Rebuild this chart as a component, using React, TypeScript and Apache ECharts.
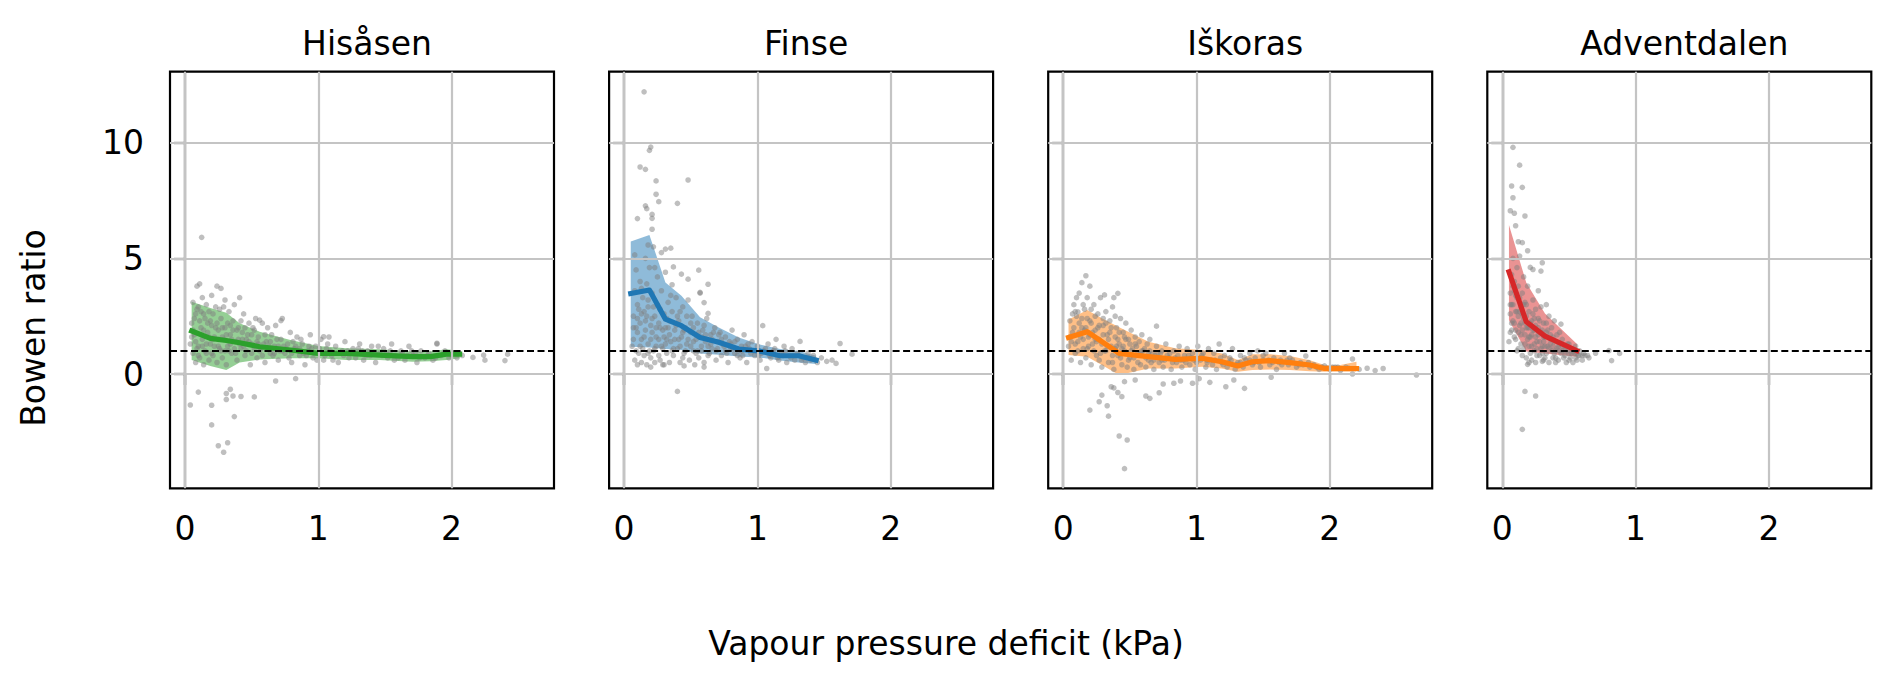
import React, { useEffect, useRef } from "react";
import * as echarts from "echarts";

// ---------------- data ----------------
const stationNames = ["Hisåsen", "Finse", "Iškoras", "Adventdalen"];
const stationColors = ["#2ca02c", "#1f77b4", "#ff7f0e", "#d62728"];

const xTicks = [0, 1, 2];
const yTicks = [0, 5, 10];
const referenceRatio = 1;
const xLabelText = "Vapour pressure deficit (kPa)";
const yLabelText = "Bowen ratio";

// Hisåsen
const hisasenPoints = [
  [0.04, 1.3], [0.05, 2.2], [0.06, 0.9], [0.06, 3.1], [0.07, 1.7], [0.08, 2.6], [0.08, 0.5], [0.09, 3.8], [0.1, 1.2], [0.1, 2.9],
  [0.11, 0.7], [0.11, 3.9], [0.12, 2.0], [0.13, 1.5], [0.13, 3.3], [0.14, 0.4], [0.15, 2.4], [0.15, 1.0], [0.16, 3.0], [0.17, 1.8],
  [0.18, 0.6], [0.18, 2.7], [0.19, 1.3], [0.2, 3.4], [0.2, 2.1], [0.21, 0.8], [0.22, 1.6], [0.23, 2.9], [0.24, 0.5], [0.24, 3.8],
  [0.25, 1.9], [0.26, 1.1], [0.27, 3.7], [0.27, 2.4], [0.28, 0.7], [0.29, 1.5], [0.3, 3.2], [0.3, 2.0], [0.31, 0.4], [0.32, 1.2],
  [0.33, 2.7], [0.34, 1.7], [0.35, 0.9], [0.36, 2.3], [0.37, 3.0], [0.38, 1.4], [0.39, 0.6], [0.4, 2.0], [0.41, 3.3], [0.42, 1.1],
  [0.43, 1.8], [0.44, 2.6], [0.45, 0.8], [0.46, 1.5], [0.48, 2.2], [0.49, 0.4], [0.5, 1.3], [0.52, 1.9], [0.53, 2.4], [0.54, 0.7],
  [0.55, 1.6], [0.57, 1.1], [0.58, 2.2], [0.6, 0.5], [0.61, 1.4], [0.62, 2.0], [0.64, 0.9], [0.65, 1.7], [0.67, 1.2], [0.68, 2.1],
  [0.7, 0.6], [0.72, 1.5], [0.73, 2.4], [0.75, 0.9], [0.77, 1.3], [0.79, 1.8], [0.8, 0.5], [0.82, 1.1], [0.84, 1.6], [0.86, 0.8],
  [0.88, 1.3], [0.9, 0.4], [0.92, 1.0], [0.94, 1.7], [0.96, 0.7], [0.98, 1.2], [1.0, 0.9], [1.02, 1.5], [1.04, 0.6], [1.06, 1.1],
  [1.08, 1.6], [1.1, 0.8], [1.13, 1.2], [1.15, 0.5], [1.18, 1.0], [1.2, 1.4], [1.23, 0.7], [1.26, 1.1], [1.29, 0.9], [1.31, 1.3],
  [1.34, 0.6], [1.37, 1.0], [1.4, 1.2], [1.43, 0.5], [1.46, 0.9], [1.49, 1.1], [1.52, 0.7], [1.55, 1.3], [1.58, 0.8], [1.62, 1.0],
  [1.65, 0.6], [1.68, 1.2], [1.71, 0.8], [1.74, 0.5], [1.77, 1.0], [1.8, 0.7], [1.83, 0.9], [1.86, 0.6], [1.89, 1.3], [1.92, 0.8],
  [1.95, 1.0], [1.98, 0.7], [2.01, 0.9], [2.04, 0.7], [2.08, 0.8], [2.16, 0.72], [2.24, 0.82], [2.4, 0.58], [2.42, 0.86], [2.25, 0.6],
  [0.05, 1.6], [0.07, 2.4], [0.09, 1.1], [0.12, 2.7], [0.14, 1.9], [0.16, 1.3], [0.19, 2.3], [0.21, 1.5], [0.23, 2.0], [0.25, 1.2],
  [0.26, 2.8], [0.28, 1.6], [0.3, 1.0], [0.32, 2.2], [0.34, 1.3], [0.36, 1.9], [0.38, 0.9], [0.4, 1.5], [0.42, 2.3], [0.44, 1.2],
  [0.47, 1.7], [0.5, 0.9], [0.51, 2.0], [0.55, 1.3], [0.58, 0.8], [0.6, 1.7], [0.63, 1.2], [0.66, 0.8], [0.69, 1.5], [0.71, 1.0],
  [0.74, 1.2], [0.78, 0.7], [0.81, 1.4], [0.85, 1.0], [0.87, 1.5], [0.91, 0.8], [0.95, 1.1], [0.99, 0.6], [1.03, 0.9], [1.07, 1.3],
  [1.11, 0.6], [1.16, 0.9], [1.22, 1.0], [1.28, 0.7], [1.33, 1.0], [1.39, 0.8], [1.45, 1.2], [1.51, 0.9], [1.57, 0.6], [1.63, 0.9],
  [1.7, 1.0], [1.76, 0.7], [1.82, 0.8], [1.88, 0.7], [1.94, 0.9], [2.0, 0.8], [0.56, 2.33], [0.72, 2.31], [1.04, 1.61], [1.89, 1.33],
  [0.06, 1.9], [0.08, 1.4], [0.09, 2.8], [0.1, 0.8], [0.11, 2.3], [0.13, 1.2], [0.14, 2.6], [0.16, 0.9], [0.17, 2.2], [0.18, 1.6],
  [0.2, 0.9], [0.21, 2.6], [0.22, 1.2], [0.24, 2.2], [0.25, 1.5], [0.27, 1.0], [0.28, 2.0], [0.29, 2.9], [0.31, 1.7], [0.33, 1.0],
  [0.34, 2.1], [0.35, 1.5], [0.37, 1.1], [0.39, 1.9], [0.41, 1.3], [0.43, 1.5], [0.45, 2.0], [0.46, 1.0], [0.48, 1.4], [0.5, 1.7],
  [0.52, 1.1], [0.54, 1.4], [0.56, 1.0], [0.59, 1.3], [0.62, 1.1], [0.64, 1.4], [0.67, 0.9], [0.7, 1.2], [0.73, 1.0], [0.76, 1.1],
  [0.8, 0.9], [0.83, 1.2], [0.86, 1.1], [0.89, 0.9], [0.93, 1.2], [0.97, 0.9], [1.01, 1.1], [1.05, 0.8], [1.09, 1.0], [1.14, 0.9],
  [1.19, 0.8], [1.25, 0.9], [1.3, 1.1], [1.36, 0.8], [1.42, 0.9], [1.48, 0.8], [1.54, 1.0], [1.6, 0.7], [1.67, 0.8], [1.73, 0.9],
  [0.125, 5.91], [0.04, -1.34], [0.1, -0.78], [0.2, -1.35], [0.2, -2.2], [0.25, -3.1], [0.29, -3.38], [0.32, -2.97], [0.37, -1.84],
  [0.31, -0.84], [0.34, -0.66], [0.31, -1.1], [0.42, -0.97], [0.52, -0.99], [0.68, -0.3], [0.83, -0.2], [0.36, -0.95],
];
const hisasenBinX = [0.05, 0.19, 0.31, 0.41, 0.56, 0.79, 1.0, 1.21, 1.46, 1.71, 1.84, 1.96, 2.06];
const hisasenMedian = [1.86, 1.54, 1.45, 1.35, 1.18, 1.04, 0.89, 0.89, 0.82, 0.75, 0.75, 0.86, 0.86];
const hisasenLow = [0.61, 0.35, 0.17, 0.5, 0.63, 0.68, 0.68, 0.61, 0.61, 0.53, 0.55, 0.61, 0.68];
const hisasenHigh = [3.13, 2.85, 2.65, 2.2, 1.83, 1.47, 1.21, 1.11, 1.07, 0.97, 0.97, 1.07, 1.01];

// Finse
const finsePoints = [
  [0.06, 1.2], [0.07, 2.5], [0.08, 3.6], [0.08, 0.6], [0.09, 4.5], [0.1, 1.8], [0.1, 3.0], [0.11, 0.9], [0.12, 2.2], [0.12, 4.0],
  [0.13, 0.5], [0.13, 1.5], [0.14, 3.3], [0.15, 2.7], [0.15, 0.8], [0.16, 5.0], [0.16, 1.9], [0.17, 3.9], [0.17, 0.4], [0.18, 1.3],
  [0.18, 2.9], [0.19, 4.6], [0.2, 0.7], [0.2, 2.1], [0.21, 3.5], [0.22, 1.0], [0.22, 5.5], [0.23, 2.5], [0.23, 0.5], [0.24, 1.6],
  [0.25, 3.0], [0.25, 4.2], [0.26, 0.8], [0.27, 2.0], [0.28, 1.2], [0.28, 3.6], [0.29, 0.4], [0.3, 2.6], [0.3, 1.6], [0.31, 4.4],
  [0.32, 0.9], [0.33, 3.1], [0.33, 2.0], [0.34, 0.5], [0.35, 1.4], [0.36, 2.7], [0.36, 3.86], [0.37, 0.8], [0.38, 1.9], [0.39, 3.3],
  [0.4, 1.1], [0.41, 2.3], [0.42, 0.5], [0.43, 1.6], [0.44, 2.9], [0.45, 0.9], [0.46, 2.0], [0.47, 1.3], [0.48, 3.2], [0.49, 0.6],
  [0.5, 1.8], [0.51, 2.5], [0.52, 1.0], [0.53, 0.4], [0.54, 1.5], [0.55, 2.2], [0.56, 0.7], [0.57, 3.5], [0.58, 1.2], [0.59, 1.9],
  [0.6, 0.5], [0.61, 1.4], [0.62, 2.4], [0.63, 2.62], [0.64, 0.9], [0.65, 1.7], [0.66, 1.1], [0.68, 2.0], [0.69, 0.6], [0.7, 1.4],
  [0.72, 1.8], [0.73, 0.8], [0.75, 1.2], [0.76, 1.6], [0.78, 0.5], [0.8, 1.3], [0.81, 1.9], [0.83, 0.9], [0.85, 1.5], [0.87, 0.7],
  [0.88, 1.2], [0.9, 1.7], [0.92, 0.5], [0.94, 1.1], [0.96, 1.4], [0.98, 0.8], [1.0, 1.2], [1.02, 0.6], [1.04, 2.09], [1.05, 1.0],
  [1.07, 0.24], [1.08, 1.3], [1.1, 0.7], [1.12, 1.0], [1.14, 1.5], [1.16, 0.6], [1.18, 0.9], [1.2, 1.2], [1.22, 0.5], [1.24, 0.8],
  [1.26, 1.1], [1.28, 0.6], [1.3, 0.9], [1.32, 1.41], [1.34, 0.7], [1.36, 0.5], [1.38, 0.9], [1.4, 0.6], [1.42, 0.8], [1.45, 0.5],
  [1.48, 0.7], [1.52, 0.55], [1.56, 0.6], [1.59, 0.46], [1.62, 1.32], [1.71, 0.86],
  [0.07, 1.5], [0.09, 2.0], [0.11, 2.8], [0.13, 3.7], [0.14, 1.1], [0.16, 2.3], [0.18, 3.2], [0.19, 1.0], [0.21, 1.8], [0.22, 2.9],
  [0.24, 1.2], [0.26, 2.2], [0.27, 0.6], [0.29, 1.9], [0.31, 1.3], [0.32, 2.4], [0.34, 1.7], [0.35, 3.4], [0.37, 1.1], [0.39, 2.1],
  [0.41, 1.5], [0.42, 2.7], [0.44, 0.7], [0.45, 1.9], [0.47, 2.5], [0.5, 1.2], [0.52, 2.0], [0.55, 1.0], [0.58, 1.6], [0.6, 2.1],
  [0.63, 1.2], [0.66, 1.5], [0.69, 1.0], [0.71, 1.7], [0.74, 1.3], [0.77, 0.9], [0.8, 1.1], [0.83, 1.4], [0.86, 1.0], [0.89, 0.8],
  [0.93, 1.3], [0.97, 1.0], [1.01, 0.8], [1.06, 1.1], [1.11, 0.9], [1.15, 0.7], [1.21, 1.0], [1.27, 0.8], [1.33, 0.6], [1.39, 0.7],
  [1.44, 0.6], [0.1, 0.4], [0.2, 0.3], [0.3, 0.4], [0.45, 0.35], [0.6, 0.3],
  [0.07, 2.0], [0.09, 1.0], [0.1, 2.4], [0.12, 1.2], [0.13, 2.6], [0.15, 1.6], [0.17, 2.5], [0.18, 0.9], [0.2, 1.5], [0.21, 2.4],
  [0.23, 1.1], [0.24, 2.0], [0.26, 1.5], [0.27, 2.8], [0.29, 1.1], [0.31, 2.0], [0.32, 1.5], [0.34, 2.3], [0.36, 1.0], [0.38, 1.5],
  [0.4, 2.5], [0.42, 1.2], [0.44, 1.8], [0.46, 1.0], [0.48, 1.5], [0.5, 2.2], [0.52, 1.4], [0.54, 0.9], [0.56, 1.8], [0.58, 1.0],
  [0.61, 1.7], [0.63, 0.8], [0.65, 1.3], [0.67, 1.8], [0.7, 1.1], [0.73, 1.5], [0.76, 1.0], [0.79, 1.4], [0.82, 1.1], [0.85, 0.8],
  [0.88, 1.0], [0.91, 1.2], [0.95, 0.9], [0.99, 1.0], [1.03, 0.9], [1.09, 0.8], [1.13, 1.1], [1.19, 0.8], [1.25, 0.7], [1.31, 0.8],
  [0.15, 12.2], [0.19, 9.67], [0.2, 9.81], [0.12, 8.95], [0.16, 8.85], [0.24, 8.35], [0.48, 8.39], [0.24, 7.77], [0.26, 7.45],
  [0.4, 7.38], [0.16, 7.27], [0.17, 7.15], [0.21, 6.9], [0.21, 6.73], [0.1, 6.72], [0.21, 6.26], [0.18, 5.58], [0.28, 5.25],
  [0.31, 5.4], [0.35, 5.44], [0.08, 5.15], [0.23, 4.6], [0.37, 4.63], [0.56, 4.49], [0.43, 4.32], [0.48, 4.1], [0.63, 3.88],
  [0.57, 3.53], [0.6, 3.09], [0.4, -0.75],
];
const finseBinX = [0.05, 0.19, 0.31, 0.43, 0.57, 0.71, 0.86, 1.01, 1.17, 1.31, 1.44];
const finseMedian = [3.48, 3.63, 2.37, 2.09, 1.58, 1.37, 1.08, 1.0, 0.79, 0.79, 0.6];
const finseLow = [1.18, 1.15, 1.08, 1.04, 0.89, 0.83, 0.76, 0.72, 0.58, 0.5, 0.43];
const finseHigh = [5.73, 6.01, 3.96, 3.38, 2.45, 2.01, 1.58, 1.29, 1.08, 1.0, 0.79];

// Iškoras
const iskorasPoints = [
  [0.04, 1.2], [0.05, 2.3], [0.06, 0.6], [0.07, 1.8], [0.08, 3.0], [0.09, 0.9], [0.1, 2.5], [0.11, 2.69], [0.11, 1.4], [0.12, 3.5],
  [0.13, 0.5], [0.14, 3.95], [0.14, 2.0], [0.15, 1.1], [0.16, 2.8], [0.17, 4.25], [0.17, 0.7], [0.18, 3.3], [0.19, 1.6], [0.2, 3.8],
  [0.2, 2.3], [0.21, 0.4], [0.22, 1.3], [0.23, 3.0], [0.24, 1.9], [0.25, 0.8], [0.26, 2.6], [0.27, 1.5], [0.28, 3.3], [0.29, 0.3],
  [0.3, 2.1], [0.31, 3.42], [0.31, 1.0], [0.32, 2.7], [0.33, 1.7], [0.34, 0.5], [0.35, 2.3], [0.36, 1.2], [0.37, 2.9], [0.38, 3.3],
  [0.38, 0.2], [0.39, 1.6], [0.4, 2.0], [0.41, 3.49], [0.41, 0.8], [0.42, 1.3], [0.43, 2.4], [0.44, 0.4], [0.45, 1.8], [0.46, 1.0],
  [0.47, 2.2], [0.48, 0.3], [0.49, 1.5], [0.5, 0.7], [0.51, 1.9], [0.52, 1.1], [0.53, 0.2], [0.54, 1.6], [0.56, 0.9], [0.57, 1.4],
  [0.58, 0.4], [0.59, 1.7], [0.6, 1.0], [0.62, 0.3], [0.63, 1.3], [0.64, 0.6], [0.65, 1.5], [0.67, 0.9], [0.68, 0.2], [0.7, 2.07],
  [0.7, 1.2], [0.72, 0.5], [0.74, 1.0], [0.75, 0.3], [0.77, 1.3], [0.79, 0.7], [0.81, 0.2], [0.83, 1.0], [0.85, 0.5], [0.87, 1.2],
  [0.89, 0.3], [0.91, 0.8], [0.93, 1.1], [0.95, 0.4], [0.97, 0.9], [0.99, 0.2], [1.01, 1.2], [1.03, 0.6], [1.05, 0.9], [1.07, 0.3],
  [1.09, 1.1], [1.11, 0.6], [1.13, 0.9], [1.15, 0.2], [1.17, 1.3], [1.19, 0.5], [1.21, 0.8], [1.23, 0.3], [1.25, 0.7], [1.27, 1.1],
  [1.29, 0.2], [1.31, 0.5], [1.33, 0.8], [1.35, 0.3], [1.37, 0.6], [1.4, 0.9], [1.42, 0.4], [1.44, 0.7], [1.46, 1.0], [1.48, 0.3],
  [1.5, 0.6], [1.52, 0.9], [1.55, 0.4], [1.58, 0.7], [1.6, 0.2], [1.63, 0.6], [1.66, 0.9], [1.69, 0.4], [1.72, 0.6], [1.75, 0.3],
  [1.78, 0.5], [1.82, 0.78], [1.85, 0.3], [1.88, 0.4], [1.92, 0.2], [1.96, 0.35], [2.0, 0.2], [2.04, 0.3], [2.08, 0.15], [2.12, 0.3],
  [2.17, 0.65], [2.17, 0.0], [2.22, 0.2], [2.28, 0.25], [2.34, 0.15], [2.4, 0.24], [2.65, -0.04],
  [0.05, 1.6], [0.07, 2.6], [0.09, 1.3], [0.1, 3.3], [0.12, 2.2], [0.13, 1.6], [0.15, 3.0], [0.16, 1.9], [0.18, 2.4], [0.19, 1.2],
  [0.21, 2.8], [0.22, 1.8], [0.24, 2.5], [0.25, 1.4], [0.27, 2.1], [0.28, 0.9], [0.3, 1.7], [0.32, 2.2], [0.33, 1.2], [0.35, 1.8],
  [0.37, 0.8], [0.39, 2.5], [0.4, 1.2], [0.42, 1.8], [0.44, 1.1], [0.46, 1.6], [0.48, 0.9], [0.5, 1.3], [0.53, 0.7], [0.55, 1.2],
  [0.58, 0.9], [0.61, 1.1], [0.64, 0.9], [0.66, 0.5], [0.69, 0.8], [0.73, 0.9], [0.76, 0.6], [0.8, 0.9], [0.84, 0.7], [0.88, 0.6],
  [0.92, 0.5], [0.96, 0.7], [1.0, 0.5], [1.04, 0.8], [1.08, 0.6], [1.12, 0.4], [1.18, 0.7], [1.24, 0.5], [1.3, 0.4], [1.36, 0.7],
  [1.43, 0.5], [1.5, 0.8], [1.57, 0.5], [1.64, 0.4], [1.7, 0.7], [1.77, 0.4], [1.84, 0.5], [1.9, 0.3], [1.98, 0.25], [2.06, 0.3],
  [2.14, 0.25],
  [0.06, 1.4], [0.08, 2.0], [0.09, 2.7], [0.11, 1.0], [0.12, 1.8], [0.14, 2.4], [0.15, 1.5], [0.17, 2.0], [0.18, 1.1], [0.2, 1.7],
  [0.21, 2.2], [0.23, 1.0], [0.24, 1.5], [0.26, 2.0], [0.27, 0.6], [0.29, 1.3], [0.3, 2.4], [0.32, 1.0], [0.34, 1.5], [0.36, 2.0],
  [0.37, 0.5], [0.39, 1.1], [0.41, 1.5], [0.43, 0.7], [0.45, 1.2], [0.47, 1.5], [0.49, 0.6], [0.51, 1.0], [0.54, 1.3], [0.56, 0.5],
  [0.59, 1.0], [0.62, 0.7], [0.65, 1.0], [0.68, 0.6], [0.71, 0.9], [0.74, 0.6], [0.78, 0.8], [0.82, 0.5], [0.86, 0.8], [0.9, 0.6],
  [0.94, 0.8], [0.98, 0.6], [1.03, 0.7], [1.08, 0.5], [1.14, 0.6], [1.2, 0.4], [1.26, 0.6], [1.33, 0.5], [1.4, 0.6], [1.47, 0.5],
  [1.54, 0.6], [1.62, 0.5], [1.68, 0.6], [1.8, 0.4], [1.94, 0.3], [2.02, 0.3],
  [0.2, -1.56], [0.42, -2.68], [0.48, -2.85], [0.46, -4.09], [0.34, -1.82], [0.33, -1.37], [0.29, -0.91], [0.36, -0.55],
  [0.54, -0.26], [0.44, -0.98], [0.62, -0.95], [0.65, -1.05], [0.72, -0.81], [0.75, -0.43], [0.46, -0.33], [0.27, -1.2],
  [0.38, -0.6], [0.41, -0.8], [0.83, -0.4], [0.88, -0.3], [0.97, -0.4], [1.02, -0.2], [1.1, -0.36], [1.22, -0.55],
  [1.28, -0.26], [1.36, -0.62], [1.56, -0.14],
];
const iskorasBinX = [0.04, 0.18, 0.29, 0.42, 0.64, 0.84, 1.04, 1.19, 1.31, 1.42, 1.55, 1.7, 1.85, 1.96, 2.08, 2.2];
const iskorasMedian = [1.58, 1.83, 1.4, 0.89, 0.75, 0.63, 0.68, 0.53, 0.35, 0.53, 0.58, 0.49, 0.39, 0.24, 0.24, 0.24];
const iskorasLow = [0.82, 0.75, 0.39, -0.04, 0.24, 0.24, 0.32, 0.24, 0.1, 0.17, 0.2, 0.17, 0.12, 0.1, 0.1, 0.1];
const iskorasHigh = [2.36, 2.77, 2.41, 2.02, 1.4, 1.11, 1.04, 0.89, 0.61, 0.85, 0.86, 0.78, 0.6, 0.39, 0.39, 0.53];

// Adventdalen
const adventdalenPoints = [
  [0.05, 1.4], [0.06, 2.6], [0.06, 3.5], [0.07, 4.3], [0.07, 1.9], [0.08, 3.0], [0.08, 5.0], [0.09, 2.2], [0.09, 4.0], [0.1, 1.5],
  [0.1, 3.4], [0.11, 2.7], [0.11, 4.6], [0.12, 1.1], [0.12, 3.8], [0.13, 2.1], [0.13, 5.1], [0.14, 2.9], [0.14, 1.3], [0.15, 3.5],
  [0.15, 0.8], [0.16, 2.4], [0.16, 4.2], [0.17, 1.7], [0.17, 3.1], [0.18, 0.7], [0.18, 2.0], [0.19, 3.8], [0.19, 0.42], [0.2, 1.2],
  [0.2, 2.7], [0.21, 4.61], [0.21, 1.6], [0.22, 0.6], [0.22, 2.3], [0.23, 4.52], [0.23, 3.2], [0.24, 1.0], [0.24, 1.9], [0.25, 2.8],
  [0.25, 0.5], [0.26, 1.4], [0.27, 2.4], [0.27, 3.6], [0.28, 0.8], [0.28, 1.8], [0.29, 4.45], [0.29, 2.9], [0.3, 1.2], [0.3, 4.81],
  [0.31, 0.6], [0.31, 2.2], [0.32, 1.6], [0.33, 3.0], [0.33, 0.9], [0.34, 1.9], [0.35, 0.5], [0.35, 2.5], [0.36, 1.3], [0.37, 2.0],
  [0.38, 0.7], [0.38, 1.6], [0.39, 2.3], [0.4, 1.0], [0.41, 1.7], [0.42, 0.6], [0.43, 1.3], [0.44, 2.16], [0.44, 0.9], [0.45, 1.5],
  [0.46, 0.7], [0.47, 1.2], [0.48, 0.5], [0.49, 1.0], [0.5, 1.3], [0.51, 0.7], [0.52, 1.1], [0.53, 0.5], [0.54, 0.9], [0.55, 1.2],
  [0.56, 0.6], [0.57, 0.8], [0.58, 1.0], [0.6, 0.6], [0.62, 0.8], [0.65, 0.7], [0.7, 0.9], [0.8, 1.01], [0.82, 0.58], [0.88, 0.89],
  [0.06, 1.8], [0.07, 3.0], [0.08, 2.3], [0.09, 3.6], [0.1, 1.9], [0.11, 1.0], [0.12, 2.5], [0.13, 3.3], [0.14, 1.7], [0.15, 2.6],
  [0.16, 1.1], [0.17, 2.2], [0.18, 3.0], [0.19, 1.5], [0.2, 2.0], [0.21, 0.9], [0.22, 1.7], [0.23, 2.6], [0.24, 1.3], [0.25, 2.1],
  [0.26, 0.8], [0.27, 1.7], [0.28, 2.3], [0.29, 1.1], [0.3, 1.9], [0.31, 1.4], [0.32, 0.7], [0.33, 2.2], [0.34, 1.2], [0.36, 1.7],
  [0.37, 1.0], [0.39, 1.4], [0.4, 0.7], [0.42, 1.2], [0.43, 1.8], [0.45, 1.0], [0.47, 0.8], [0.49, 1.3], [0.5, 0.6], [0.52, 0.9],
  [0.55, 0.7], [0.58, 0.8], [0.61, 0.9], [0.64, 0.8], [0.2, 0.5], [0.3, 0.55], [0.4, 0.5],
  [0.06, 3.0], [0.07, 2.2], [0.08, 3.8], [0.09, 1.6], [0.1, 2.7], [0.11, 3.3], [0.12, 1.8], [0.13, 2.7], [0.14, 2.2], [0.15, 1.9],
  [0.16, 3.0], [0.17, 1.3], [0.18, 2.5], [0.19, 2.0], [0.2, 1.6], [0.21, 2.2], [0.22, 1.2], [0.23, 1.9], [0.24, 2.4], [0.25, 1.6],
  [0.26, 1.1], [0.27, 2.0], [0.28, 1.4], [0.29, 1.8], [0.3, 0.9], [0.31, 1.6], [0.32, 1.2], [0.33, 1.8], [0.35, 1.1], [0.36, 1.5],
  [0.38, 1.2], [0.39, 0.9], [0.41, 1.1], [0.43, 1.0], [0.45, 1.2], [0.47, 1.0], [0.5, 0.9], [0.53, 1.0], [0.56, 0.9], [0.6, 0.8],
  [0.08, 9.8], [0.13, 9.03], [0.07, 8.13], [0.15, 8.07], [0.08, 7.62], [0.06, 7.06], [0.09, 6.95], [0.17, 6.83], [0.1, 6.41],
  [0.12, 5.72], [0.15, 5.68], [0.19, 5.33], [0.17, -0.75], [0.25, -0.95], [0.15, -2.39],
];
const adventdalenBinX = [0.05, 0.18, 0.32, 0.56];
const adventdalenMedian = [4.42, 2.26, 1.64, 1.01];
const adventdalenLow = [2.33, 0.97, 0.89, 0.75];
const adventdalenHigh = [6.44, 3.95, 2.62, 1.3];

const stationPoints = [hisasenPoints, finsePoints, iskorasPoints, adventdalenPoints];
const stationBinX = [hisasenBinX, finseBinX, iskorasBinX, adventdalenBinX];
const stationMedian = [hisasenMedian, finseMedian, iskorasMedian, adventdalenMedian];
const stationLow = [hisasenLow, finseLow, iskorasLow, adventdalenLow];
const stationHigh = [hisasenHigh, finseHigh, iskorasHigh, adventdalenHigh];

// ---------------- layout ----------------
const FONT = "'DejaVu Sans', 'Liberation Sans', sans-serif";
const X_MIN = -0.1125;
const X_MAX = 2.768;
const Y_MIN = -4.94;
const Y_MAX = 13.07;
const GRID_LEFTS = [170, 609.1, 1048.2, 1487.3];
const GRID_TOP = 71.7;
const GRID_W = 384;
const GRID_H = 416.6;
const TICK_FONT = 33;
const LABEL_FONT = 33;

function hexToRgba(hex: string, a: number) {
  const n = parseInt(hex.slice(1), 16);
  return `rgba(${(n >> 16) & 255},${(n >> 8) & 255},${n & 255},${a})`;
}

function buildOption() {
  const grid: any[] = [];
  const xAxis: any[] = [];
  const yAxis: any[] = [];
  const series: any[] = [];
  const title: any[] = [];

  stationNames.forEach((name, i) => {
    const color = stationColors[i];
    grid.push({
      left: GRID_LEFTS[i],
      top: GRID_TOP,
      width: GRID_W,
      height: GRID_H,
      show: true,
      borderColor: "#000",
      borderWidth: 2.2,
      backgroundColor: "rgba(0,0,0,0)",
      containLabel: false,
    });
    xAxis.push({
      gridIndex: i,
      type: "value",
      min: X_MIN,
      max: X_MAX,
      axisLine: { show: true, lineStyle: { color: "#000", width: 2.2 } },
      splitLine: { show: false },
      axisTick: { show: true, inside: false, length: 11, customValues: xTicks, lineStyle: { color: "#000", width: 2.2 } },
      axisLabel: {
        show: true,
        customValues: xTicks,
        margin: 23.5,
        fontSize: TICK_FONT,
        fontFamily: FONT,
        color: "#000",
      },
    });
    yAxis.push({
      gridIndex: i,
      type: "value",
      min: Y_MIN,
      max: Y_MAX,
      axisLine: { show: true, lineStyle: { color: "#000", width: 2.2 } },
      splitLine: { show: false },
      axisTick: { show: true, inside: false, length: 11, customValues: yTicks, lineStyle: { color: "#000", width: 2.2 } },
      axisLabel: {
        show: i === 0,
        customValues: yTicks,
        margin: 26,
        fontSize: TICK_FONT,
        fontFamily: FONT,
        color: "#000",
      },
    });
    title.push({
      text: name,
      left: GRID_LEFTS[i] + GRID_W / 2,
      top: 21.5,
      textAlign: "center",
      textStyle: { fontSize: 33, fontWeight: "normal", fontFamily: FONT, color: "#000" },
    });

    // scatter of observations
    series.push({
      type: "scatter",
      xAxisIndex: i,
      yAxisIndex: i,
      data: stationPoints[i],
      symbolSize: 5.6,
      itemStyle: { color: "#808080", opacity: 0.5 },
      silent: true,
    });

    // percentile band
    const bx = stationBinX[i];
    const lo = stationLow[i];
    const hi = stationHigh[i];
    series.push({
      type: "custom",
      xAxisIndex: i,
      yAxisIndex: i,
      data: [[bx[0], lo[0]]],
      encode: { x: 0, y: 1 },
      silent: true,
      renderItem: (_params: any, api: any) => {
        const pts: number[][] = [];
        for (let k = 0; k < bx.length; k++) pts.push(api.coord([bx[k], hi[k]]));
        for (let k = bx.length - 1; k >= 0; k--) pts.push(api.coord([bx[k], lo[k]]));
        return {
          type: "polygon",
          shape: { points: pts },
          style: { fill: hexToRgba(color, 0.5), stroke: "none" },
        };
      },
    });

    // grid lines
    series.push({
      type: "line",
      xAxisIndex: i,
      yAxisIndex: i,
      data: [],
      silent: true,
      markLine: {
        silent: true,
        symbol: ["none", "none"],
        label: { show: false },
        lineStyle: { color: "#c4c4c4", width: 2.2, type: "solid" },
        emphasis: { disabled: true },
        data: [...xTicks.map((v) => ({ xAxis: v })), ...yTicks.map((v) => ({ yAxis: v }))],
      },
    });

    // reference line at Bowen ratio = 1
    series.push({
      type: "line",
      xAxisIndex: i,
      yAxisIndex: i,
      data: [],
      silent: true,
      markLine: {
        silent: true,
        symbol: ["none", "none"],
        label: { show: false },
        lineStyle: { color: "#000", width: 1.8, type: [7, 3.5] },
        emphasis: { disabled: true },
        data: [{ yAxis: referenceRatio }],
      },
    });

    // median line
    series.push({
      type: "line",
      xAxisIndex: i,
      yAxisIndex: i,
      data: bx.map((x, k) => [x, stationMedian[i][k]]),
      symbol: "none",
      silent: true,
      lineStyle: { color, width: 5.2, join: "round", cap: "square" },
    });
  });

  return {
    animation: false,
    backgroundColor: "#fff",
    title,
    grid,
    xAxis,
    yAxis,
    series,
    graphic: [
      {
        type: "text",
        x: 946,
        y: 643,
        silent: true,
        style: {
          text: xLabelText,
          fontSize: LABEL_FONT,
          fontFamily: FONT,
          fill: "#000",
          textAlign: "center",
          textVerticalAlign: "middle",
          align: "center",
          verticalAlign: "middle",
        },
      },
      {
        type: "text",
        x: 33.5,
        y: 328,
        rotation: Math.PI / 2,
        silent: true,
        style: {
          text: yLabelText,
          fontSize: LABEL_FONT,
          fontFamily: FONT,
          fill: "#000",
          textAlign: "center",
          textVerticalAlign: "middle",
          align: "center",
          verticalAlign: "middle",
        },
      },
    ],
  };
}

export default function App() {
  const ref = useRef<HTMLDivElement>(null);
  useEffect(() => {
    if (!ref.current) return;
    const chart = echarts.init(ref.current, null, { renderer: "svg" });
    chart.setOption(buildOption() as any);
    return () => chart.dispose();
  }, []);
  return (
    <div
      ref={ref}
      style={{ position: "fixed", left: 0, top: 0, width: 1892, height: 681, background: "#fff" }}
    />
  );
}
